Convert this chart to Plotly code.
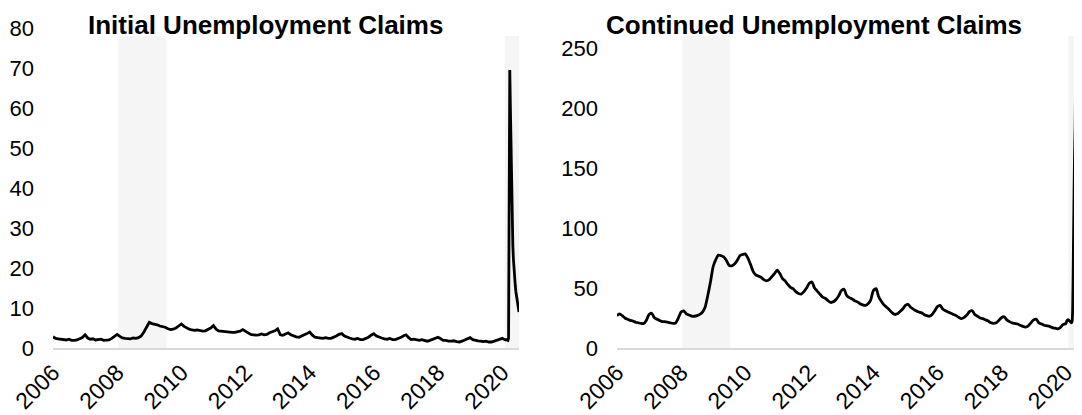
import pandas as pd
import plotly.graph_objects as go

# ---------------- data (units: 100k claims) ----------------
month_dates = pd.date_range("2006-01-01", "2019-12-01", freq="MS")
week_dates_2020 = pd.date_range("2020-01-04", "2020-07-11", freq="7D")

initial_monthly = [
    2.8, 2.4, 2.3, 2.2, 2.2, 2.0, 2.2, 1.9, 1.9, 2.0, 2.3, 2.6,   # 2006
    3.3, 2.5, 2.2, 2.3, 2.0, 2.1, 2.2, 1.9, 1.9, 2.0, 2.4, 2.8,   # 2007
    3.4, 2.9, 2.5, 2.4, 2.3, 2.3, 2.5, 2.4, 2.6, 3.0, 4.0, 5.2,   # 2008
    6.4, 6.1, 6.0, 5.8, 5.5, 5.3, 5.2, 4.8, 4.6, 4.7, 5.0, 5.5,   # 2009
    6.0, 5.4, 5.0, 4.7, 4.5, 4.4, 4.5, 4.3, 4.2, 4.3, 4.6, 5.0,   # 2010
    5.6, 4.7, 4.3, 4.2, 4.1, 4.0, 4.0, 3.9, 3.9, 4.0, 4.2, 4.6,   # 2011
    4.2, 3.6, 3.4, 3.3, 3.2, 3.3, 3.5, 3.3, 3.4, 3.8, 4.0, 4.3,   # 2012
    4.8, 3.3, 3.2, 3.5, 3.8, 3.3, 3.0, 2.8, 2.7, 2.9, 3.3, 3.6,   # 2013
    4.0, 3.2, 2.7, 2.6, 2.5, 2.4, 2.6, 2.4, 2.4, 2.6, 3.0, 3.4,   # 2014
    3.6, 3.0, 2.7, 2.5, 2.3, 2.2, 2.4, 2.1, 2.1, 2.3, 2.7, 3.2,   # 2015
    3.6, 3.0, 2.7, 2.5, 2.3, 2.2, 2.4, 2.1, 2.1, 2.3, 2.6, 3.0,   # 2016
    3.3, 2.6, 2.1, 2.2, 2.0, 1.9, 2.1, 1.8, 1.7, 1.9, 2.2, 2.6,   # 2017
    2.7, 2.3, 1.9, 1.9, 1.7, 1.7, 1.8, 1.6, 1.5, 1.7, 2.0, 2.3,   # 2018
    2.6, 2.1, 1.9, 1.8, 1.7, 1.6, 1.7, 1.5, 1.5, 1.7, 2.0, 2.3,   # 2019
]
initial_2020_weekly = [
    2.4, 2.3, 2.2, 2.2, 2.1, 2.0, 2.1, 2.0, 1.9, 1.9, 2.5, 30.0,
    69.5, 60.0, 48.0, 38.0, 30.0, 25.5, 22.0, 19.0, 17.0, 15.5,
    14.0, 12.8, 11.8, 10.8, 9.9, 9.0,
]

continued_monthly = [
    27, 28.5, 27, 25, 24, 23, 22.5, 21.5, 21, 20.5, 20.5, 23,        # 2006
    28, 29, 25.5, 24, 23, 22, 22, 21.5, 21, 20.5, 21, 25,            # 2007
    30, 31, 28.5, 27.5, 26.5, 26.5, 27, 28, 30, 34, 44, 55,          # 2008
    68, 74, 77.5, 77, 76, 73, 69, 68.5, 70, 73, 77, 78,              # 2009
    78.5, 75, 70, 64, 61, 60, 59, 57, 56, 57, 59.5, 62,              # 2010
    65, 62, 58, 56, 53, 50.5, 49.5, 47, 45.5, 45, 47, 50,            # 2011
    54, 55, 50, 47.5, 45, 42.5, 41.5, 39.5, 38, 38.5, 40.5, 43.5,    # 2012
    48, 49, 44, 42, 41, 39.5, 38.5, 37, 36, 35.5, 37, 40,            # 2013
    48, 49.5, 43, 39, 36, 34, 32, 29.5, 28, 28.5, 30.5, 32.5,        # 2014
    35.5, 36.5, 34, 32.5, 31, 30, 29.5, 28, 27, 26.5, 28, 31,        # 2015
    34.5, 35.5, 32.5, 31, 30, 29, 28, 27, 25.5, 24.5, 25.5, 27.5,    # 2016
    30.5, 31, 28, 26.5, 25, 24.5, 23.5, 22.5, 21, 20.5, 21, 23,      # 2017
    25.5, 26, 23.5, 22, 21, 20.5, 20, 19, 18, 17.5, 18.5, 21,        # 2018
    23.5, 24, 21, 20, 19, 18.5, 18, 17, 16.5, 16, 17, 19.5,          # 2019
]
continued_2020_weekly = [
    20.5, 22, 23, 23.5, 23.5, 23, 22.5, 22, 21.5, 21, 22, 33,
    74, 120, 160, 185, 225, 230, 249, 212, 210, 200, 195, 190,
    180, 170, 165, 162,
]

titles = ["Initial Unemployment Claims", "Continued Unemployment Claims"]
recessions = [("2008-01-15", "2009-07-15"), ("2020-02-01", "2020-07-11")]

dates = list(month_dates) + list(week_dates_2020)
initial = initial_monthly + initial_2020_weekly
continued = continued_monthly + continued_2020_weekly

# ---------------- figure ----------------
# the page body has an 8px margin, so the figure must fit in the remaining width
W, H = 1066, 407
FONT = "Liberation Sans, Arial, sans-serif"
RIGHT_END = "2020-04-05"

fig = go.Figure()
fig.add_trace(go.Scatter(x=dates, y=initial, mode="lines", xaxis="x", yaxis="y",
                         line=dict(color="black", width=2.8), hoverinfo="skip"))
fig.add_trace(go.Scatter(x=dates, y=continued, mode="lines", xaxis="x2", yaxis="y2",
                         line=dict(color="black", width=2.8, shape="spline", smoothing=0.6),
                         hoverinfo="skip"))

ydom = [67 / H, 387 / H]
shade_top = (H - 28) / H

common_x = dict(type="date", tickformat="%Y", dtick="M24", tick0="2006-01-01",
                tickangle=-45, showgrid=False, zeroline=False, showline=True,
                linecolor="#d9d9d9", linewidth=2, ticks="", automargin=False,
                ticklabeloverflow="allow",
                tickfont=dict(size=23, color="black", family=FONT))
common_y = dict(showgrid=False, zeroline=False, showline=False, ticks="",
                ticklabelstandoff=18, automargin=False,
                tickfont=dict(size=22, color="black", family=FONT))

fig.update_layout(
    width=W, height=H,
    margin=dict(l=0, r=0, t=0, b=0, autoexpand=False),
    paper_bgcolor="white", plot_bgcolor="white",
    showlegend=False,
    font=dict(family=FONT, color="black"),
    xaxis=dict(domain=[45 / W, 511 / W], range=["2006-01-01", "2020-07-11"],
               anchor="y", **common_x),
    yaxis=dict(domain=ydom, range=[0, 80], dtick=10, anchor="x", **common_y),
    xaxis2=dict(domain=[609 / W, 1.0], range=["2006-01-01", RIGHT_END],
                anchor="y2", **common_x),
    yaxis2=dict(domain=ydom, range=[0, 267], tickvals=[0, 50, 100, 150, 200, 250],
                anchor="x2", **common_y),
)

shapes = []
for xr, end in (("x", "2020-07-11"), ("x2", RIGHT_END)):
    for x0, x1 in recessions:
        shapes.append(dict(type="rect", xref=xr, yref="paper",
                           x0=x0, x1=min(x1, end), y0=ydom[0], y1=shade_top,
                           fillcolor="#f5f5f5", line=dict(width=0), layer="below"))
fig.update_layout(shapes=shapes)

for t, xc in zip(titles, [257 / W, 806 / W]):
    fig.add_annotation(text="<b>" + t + "</b>", x=xc, y=1.0,
                       xref="paper", yref="paper", xanchor="center", yanchor="top",
                       showarrow=False, font=dict(size=26, color="black", family=FONT))

fig.write_html("out.html")
